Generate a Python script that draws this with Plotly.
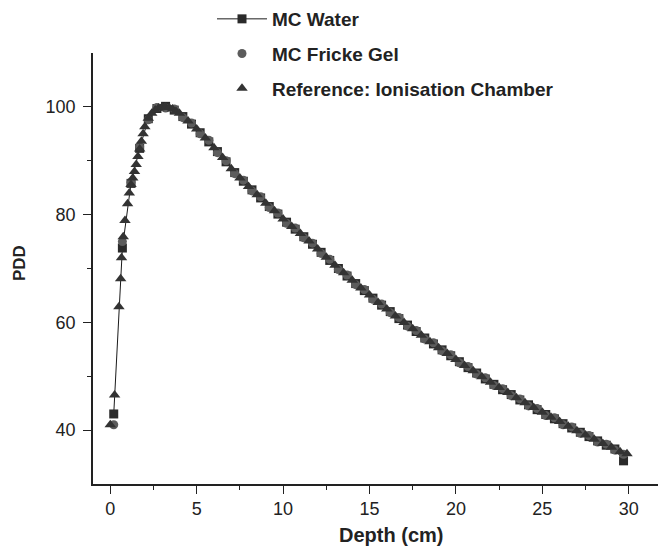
import plotly.graph_objects as go

# Ionisation chamber reference (depth cm, PDD)
ic_depth = [0.0, 0.25, 0.5, 0.6, 0.65, 0.75, 0.85, 1.0, 1.1, 1.2, 1.3, 1.4, 1.5, 1.6, 1.7, 1.8,
            1.9, 2.0, 2.2, 2.4, 2.6, 2.8, 3.0, 3.2, 3.4, 3.6, 3.8, 4.0, 4.5, 5.0, 5.5, 6.0, 6.5,
            7.0, 7.5, 8.0, 8.5, 9.0, 9.5, 10.0, 10.5, 11.0, 11.5, 12.0, 12.5, 13.0, 13.5, 14.0,
            14.5, 15.0, 15.5, 16.0, 16.5, 17.0, 17.5, 18.0, 18.5, 19.0, 19.5, 20.0, 20.5, 21.0,
            21.5, 22.0, 22.5, 23.0, 23.5, 24.0, 24.5, 25.0, 25.5, 26.0, 26.5, 27.0, 27.5, 28.0,
            28.5, 29.0, 29.5, 29.9]
ic_pdd = [41.0, 46.5, 62.9, 68.1, 72.0, 75.9, 78.9, 82.0, 84.0, 85.6, 86.8, 88.0, 89.3, 90.8,
          92.2, 93.6, 95.0, 96.3, 97.9, 98.8, 99.4, 99.8, 100.0, 100.0, 99.9, 99.6, 99.2, 98.8,
          97.4, 95.9, 94.2, 92.4, 90.6, 88.5, 86.8, 85.2, 83.7, 82.1, 80.7, 79.2, 77.8, 76.5,
          75.1, 73.6, 72.1, 70.6, 69.2, 67.8, 66.4, 65.1, 63.7, 62.5, 61.2, 60.0, 58.8, 57.6,
          56.4, 55.3, 54.2, 53.1, 52.0, 51.0, 49.9, 48.9, 47.9, 47.0, 46.0, 45.1, 44.2, 43.3,
          42.4, 41.6, 40.7, 39.9, 39.1, 38.3, 37.5, 36.8, 36.0, 35.6]

# Monte Carlo depths (shared by both MC series)
mc_depth = [0.2, 0.7, 1.2, 1.7, 2.2, 2.7, 3.2, 3.7, 4.2, 4.7, 5.2, 5.7, 6.2, 6.7, 7.2, 7.7, 8.2,
            8.7, 9.2, 9.7, 10.2, 10.7, 11.2, 11.7, 12.2, 12.7, 13.2, 13.7, 14.2, 14.7, 15.2, 15.7,
            16.2, 16.7, 17.2, 17.7, 18.2, 18.7, 19.2, 19.7, 20.2, 20.7, 21.2, 21.7, 22.2, 22.7,
            23.2, 23.7, 24.2, 24.7, 25.2, 25.7, 26.2, 26.7, 27.2, 27.7, 28.2, 28.7, 29.2, 29.7]
mc_water = [43.0, 73.8, 85.8, 92.3, 97.8, 99.7, 100.1, 99.4, 98.2, 96.8, 95.2, 93.5, 91.7, 89.8,
            87.8, 86.2, 84.6, 83.1, 81.5, 80.1, 78.6, 77.3, 75.9, 74.5, 73.0, 71.5, 70.0, 68.6,
            67.2, 65.9, 64.5, 63.2, 62.0, 60.7, 59.5, 58.3, 57.1, 56.0, 54.9, 53.8, 52.7, 51.6,
            50.6, 49.5, 48.5, 47.5, 46.6, 45.6, 44.7, 43.8, 42.9, 42.1, 41.2, 40.4, 39.6, 38.8,
            38.0, 37.2, 36.5, 34.3]
mc_fricke = [41.0, 75.0, 86.0, 92.6, 97.6, 99.9, 99.8, 99.6, 98.0, 97.0, 95.0, 93.8, 91.5, 90.0,
             87.6, 86.4, 84.4, 83.3, 81.3, 80.3, 78.4, 77.5, 75.7, 74.7, 72.8, 71.7, 69.8, 68.8,
             67.0, 66.1, 64.3, 63.4, 61.8, 60.9, 59.3, 58.5, 56.9, 56.2, 54.7, 54.0, 52.5, 51.8,
             50.4, 49.7, 48.3, 47.7, 46.4, 45.8, 44.5, 44.0, 42.7, 42.3, 41.0, 40.6, 39.4, 39.0,
             37.8, 37.4, 36.3, 35.5]

x_ticks = [0, 5, 10, 15, 20, 25, 30]
y_ticks = [40, 60, 80, 100]
x_title = "Depth (cm)"
y_title = "PDD"

FONT = "Liberation Sans, Arial, sans-serif"
W, H = 666, 552
ML, MT, MB = 85, 45, 76
PW, PH = W - ML, H - MT - MB

fig = go.Figure()
fig.add_trace(go.Scatter(
    x=mc_depth, y=mc_water, mode="lines+markers", name="MC Water", legendgroup="a",
    line=dict(color="#1a1a1a", width=1),
    marker=dict(symbol="square", size=9, color="#2a2a2a"),
))
fig.add_trace(go.Scatter(
    x=mc_depth, y=mc_fricke, mode="markers", name="MC Fricke Gel", legendgroup="b",
    marker=dict(symbol="circle", size=9, color="#5c5c5c"),
))
fig.add_trace(go.Scatter(
    x=ic_depth, y=ic_pdd, mode="markers", name="Reference: Ionisation Chamber", legendgroup="c",
    marker=dict(symbol="triangle-up", size=10, color="#333333"),
))

fig.update_layout(
    width=W, height=H,
    margin=dict(l=ML, r=0, t=MT, b=MB, autoexpand=False),
    paper_bgcolor="white", plot_bgcolor="white",
    font=dict(family=FONT, color="#222222"),
    showlegend=True,
    legend=dict(
        x=(204 - ML) / PW, y=1 + (MT + 8) / PH,
        xanchor="left", yanchor="top",
        font=dict(size=19, family=FONT, color="#222222", weight="bold"),
        bgcolor="rgba(0,0,0,0)", traceorder="grouped", tracegroupgap=7,
        itemwidth=50,
    ),
    xaxis=dict(
        range=[-1, 32.62], showgrid=False, zeroline=False,
        showline=True, linecolor="#222222", linewidth=1.5,
        tickmode="array", tickvals=x_ticks, ticks="outside", ticklen=8, tickwidth=1.3,
        tickcolor="#222222", tickfont=dict(size=18, color="#222222"),
        minor=dict(tickvals=[2.5, 7.5, 12.5, 17.5, 22.5, 27.5], ticks="outside", ticklen=4,
                   tickwidth=1.3, tickcolor="#222222"),
    ),
    yaxis=dict(
        range=[30, 110], showgrid=False, zeroline=False,
        showline=True, linecolor="#222222", linewidth=1.5,
        tickmode="array", tickvals=y_ticks, ticks="outside", ticklen=8, tickwidth=1.3,
        tickcolor="#222222", tickfont=dict(size=18, color="#222222"),
        ticklabelstandoff=4,
        minor=dict(tickvals=[50, 70, 90], ticks="outside", ticklen=4,
                   tickwidth=1.3, tickcolor="#222222"),
    ),
    annotations=[
        dict(text="<b>" + x_title + "</b>", xref="paper", yref="paper",
             x=(383 - ML) / PW, y=(H - MB - 527) / PH, xanchor="center", yanchor="middle",
             showarrow=False, font=dict(size=20, family=FONT, color="#222222")),
        dict(text="<b>" + y_title + "</b>", xref="paper", yref="paper", textangle=-90,
             x=(11 - ML) / PW, y=(H - MB - 255) / PH, xanchor="center", yanchor="middle",
             showarrow=False, font=dict(size=17, family=FONT, color="#222222")),
    ],
)

fig.write_html("out.html")
